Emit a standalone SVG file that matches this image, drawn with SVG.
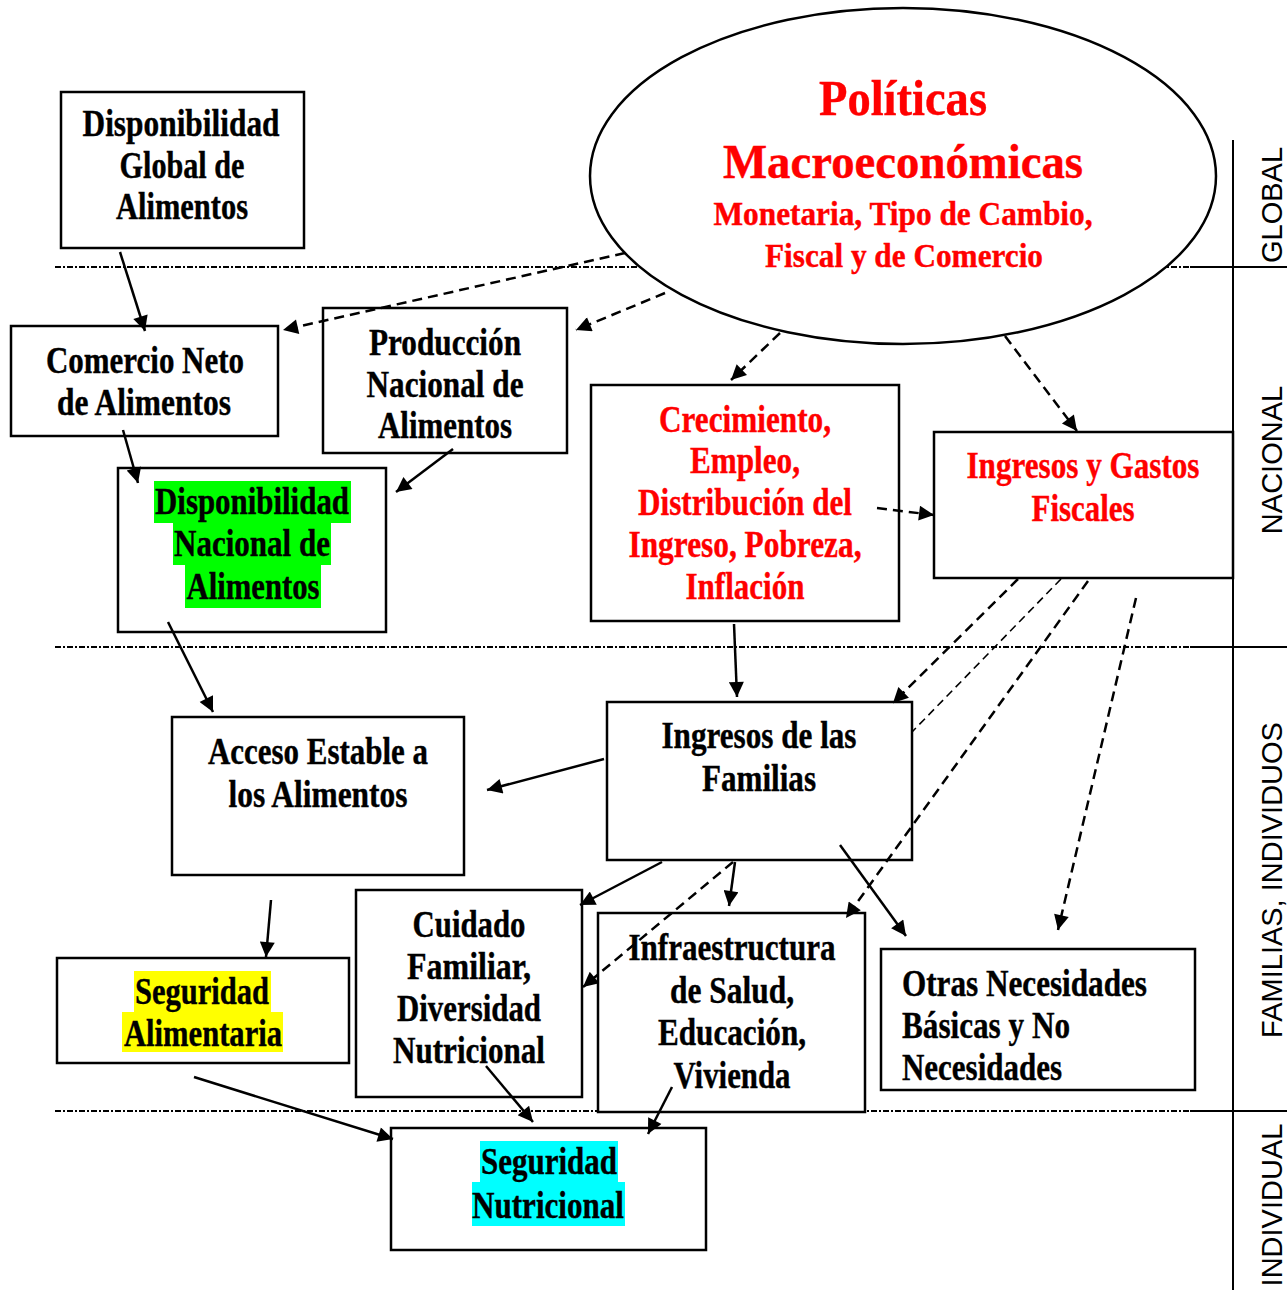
<svg xmlns="http://www.w3.org/2000/svg" width="1287" height="1290" viewBox="0 0 1287 1290">
<style>
.box{fill:#fff;stroke:#000;stroke-width:2.5}
.t{font-family:"Liberation Serif","Times New Roman",serif;font-weight:bold;font-size:37px;fill:#000;stroke:#000;stroke-width:0.4;text-anchor:middle}
.r{fill:#ff0000;stroke:#ff0000}
.l{text-anchor:start}
.side{font-family:"Liberation Sans",Arial,sans-serif;font-size:29px;fill:#000;text-anchor:middle}
.sep{stroke:#000;stroke-width:2;stroke-dasharray:6 2 2 2;fill:none}
.sol{stroke:#000;stroke-width:2;fill:none}
.c{stroke:#000;stroke-width:2.5;fill:none;marker-end:url(#ah)}
.d{stroke:#000;stroke-width:2.5;fill:none;stroke-dasharray:10 6;marker-end:url(#ah)}
.dt{stroke:#000;stroke-width:1.6;fill:none;stroke-dasharray:8 5}
</style>
<defs>
<marker id="ah" viewBox="0 0 10 10" refX="10" refY="5" markerWidth="19" markerHeight="15" markerUnits="userSpaceOnUse" orient="auto">
<path d="M0,0 L10,5 L0,10 z" fill="#000"/>
</marker>
</defs>
<rect width="1287" height="1290" fill="#fff"/>
<g id="separators">
<line class="sep" x1="55" y1="267" x2="1190" y2="267"/>
<line class="sol" x1="1190" y1="267" x2="1287" y2="267"/>
<line class="sep" x1="55" y1="647" x2="1190" y2="647"/>
<line class="sol" x1="1190" y1="647" x2="1287" y2="647"/>
<line class="sep" x1="55" y1="1111" x2="1190" y2="1111"/>
<line class="sol" x1="1190" y1="1111" x2="1287" y2="1111"/>
<line class="sol" x1="1233" y1="140" x2="1233" y2="1290"/>
</g>
<g id="side-labels">
<text class="side" transform="translate(1282,205) rotate(-90)">GLOBAL</text>
<text class="side" transform="translate(1282,460) rotate(-90)">NACIONAL</text>
<text class="side" transform="translate(1282,880) rotate(-90)">FAMILIAS, INDIVIDUOS</text>
<text class="side" transform="translate(1282,1205) rotate(-90)">INDIVIDUAL</text>
</g>
<g id="politicas">
<ellipse cx="903" cy="176" rx="313" ry="168" fill="#fff" stroke="#000" stroke-width="2.5"/>
<text class="t r" x="903" y="115" style="font-size:50px" textLength="168" lengthAdjust="spacingAndGlyphs">Políticas</text>
<text class="t r" x="903" y="178" style="font-size:48px" textLength="360" lengthAdjust="spacingAndGlyphs">Macroeconómicas</text>
<text class="t r" x="903" y="225" style="font-size:33px" textLength="379" lengthAdjust="spacingAndGlyphs">Monetaria, Tipo de Cambio,</text>
<text class="t r" x="904" y="267" style="font-size:33px" textLength="278" lengthAdjust="spacingAndGlyphs">Fiscal y de Comercio</text>
</g>
<g id="disp-global">
<rect class="box" x="61" y="92" width="243" height="156"/>
<text class="t" x="181" y="136" textLength="197" lengthAdjust="spacingAndGlyphs">Disponibilidad</text>
<text class="t" x="182" y="178" textLength="125" lengthAdjust="spacingAndGlyphs">Global de</text>
<text class="t" x="182" y="219" textLength="132" lengthAdjust="spacingAndGlyphs">Alimentos</text>
</g>
<g id="comercio-neto">
<rect class="box" x="11" y="326" width="267" height="110"/>
<text class="t" x="145" y="373" textLength="198" lengthAdjust="spacingAndGlyphs">Comercio Neto</text>
<text class="t" x="144" y="415" textLength="174" lengthAdjust="spacingAndGlyphs">de Alimentos</text>
</g>
<g id="produccion">
<rect class="box" x="323" y="308" width="244" height="145"/>
<text class="t" x="445" y="355" textLength="152" lengthAdjust="spacingAndGlyphs">Producción</text>
<text class="t" x="445" y="397" textLength="157" lengthAdjust="spacingAndGlyphs">Nacional de</text>
<text class="t" x="445" y="438" textLength="134" lengthAdjust="spacingAndGlyphs">Alimentos</text>
</g>
<g id="disp-nacional">
<rect class="box" x="118" y="468" width="268" height="164"/>
<rect x="154" y="481" width="197" height="42" fill="#00ff00"/>
<rect x="173" y="523" width="158" height="42" fill="#00ff00"/>
<rect x="185" y="565" width="136" height="43" fill="#00ff00"/>
<text class="t" x="252" y="514" textLength="194" lengthAdjust="spacingAndGlyphs">Disponibilidad</text>
<text class="t" x="252" y="556" textLength="156" lengthAdjust="spacingAndGlyphs">Nacional de</text>
<text class="t" x="253" y="599" textLength="133" lengthAdjust="spacingAndGlyphs">Alimentos</text>
</g>
<g id="crecimiento">
<rect class="box" x="591" y="385" width="308" height="236"/>
<text class="t r" x="745" y="432" textLength="172" lengthAdjust="spacingAndGlyphs">Crecimiento,</text>
<text class="t r" x="745" y="473" textLength="110" lengthAdjust="spacingAndGlyphs">Empleo,</text>
<text class="t r" x="745" y="515" textLength="214" lengthAdjust="spacingAndGlyphs">Distribución del</text>
<text class="t r" x="745" y="557" textLength="233" lengthAdjust="spacingAndGlyphs">Ingreso, Pobreza,</text>
<text class="t r" x="745" y="599" textLength="119" lengthAdjust="spacingAndGlyphs">Inflación</text>
</g>
<g id="ingresos-gastos">
<rect class="box" x="934" y="432" width="299" height="146"/>
<text class="t r" x="1083" y="478" textLength="233" lengthAdjust="spacingAndGlyphs">Ingresos y Gastos</text>
<text class="t r" x="1083" y="521" textLength="103" lengthAdjust="spacingAndGlyphs">Fiscales</text>
</g>
<g id="acceso">
<rect class="box" x="172" y="717" width="292" height="158"/>
<text class="t" x="318" y="764" textLength="220" lengthAdjust="spacingAndGlyphs">Acceso Estable a</text>
<text class="t" x="318" y="807" textLength="179" lengthAdjust="spacingAndGlyphs">los Alimentos</text>
</g>
<g id="ingresos-familias">
<rect class="box" x="607" y="702" width="305" height="158"/>
<text class="t" x="759" y="748" textLength="195" lengthAdjust="spacingAndGlyphs">Ingresos de las</text>
<text class="t" x="759" y="791" textLength="114" lengthAdjust="spacingAndGlyphs">Familias</text>
</g>
<g id="seg-alimentaria">
<rect class="box" x="57" y="958" width="292" height="105"/>
<rect x="134" y="971" width="137" height="41" fill="#ffff00"/>
<rect x="122" y="1012" width="161" height="40" fill="#ffff00"/>
<text class="t" x="202" y="1004" textLength="134" lengthAdjust="spacingAndGlyphs">Seguridad</text>
<text class="t" x="203" y="1046" textLength="158" lengthAdjust="spacingAndGlyphs">Alimentaria</text>
</g>
<g id="cuidado">
<rect class="box" x="356" y="890" width="226" height="207"/>
<text class="t" x="469" y="937" textLength="113" lengthAdjust="spacingAndGlyphs">Cuidado</text>
<text class="t" x="469" y="979" textLength="124" lengthAdjust="spacingAndGlyphs">Familiar,</text>
<text class="t" x="469" y="1021" textLength="144" lengthAdjust="spacingAndGlyphs">Diversidad</text>
<text class="t" x="469" y="1063" textLength="152" lengthAdjust="spacingAndGlyphs">Nutricional</text>
</g>
<g id="infraestructura">
<rect class="box" x="598" y="913" width="267" height="199"/>
<text class="t" x="732" y="960" textLength="207" lengthAdjust="spacingAndGlyphs">Infraestructura</text>
<text class="t" x="732" y="1003" textLength="124" lengthAdjust="spacingAndGlyphs">de Salud,</text>
<text class="t" x="732" y="1045" textLength="148" lengthAdjust="spacingAndGlyphs">Educación,</text>
<text class="t" x="732" y="1088" textLength="117" lengthAdjust="spacingAndGlyphs">Vivienda</text>
</g>
<g id="otras">
<rect class="box" x="881" y="949" width="314" height="141"/>
<text class="t l" x="902" y="996" textLength="245" lengthAdjust="spacingAndGlyphs">Otras Necesidades</text>
<text class="t l" x="902" y="1038" textLength="168" lengthAdjust="spacingAndGlyphs">Básicas y No</text>
<text class="t l" x="902" y="1080" textLength="160" lengthAdjust="spacingAndGlyphs">Necesidades</text>
</g>
<g id="seg-nutricional">
<rect class="box" x="391" y="1128" width="315" height="122"/>
<rect x="480" y="1141" width="138" height="41" fill="#00ffff"/>
<rect x="472" y="1182" width="153" height="44" fill="#00ffff"/>
<text class="t" x="549" y="1174" textLength="136" lengthAdjust="spacingAndGlyphs">Seguridad</text>
<text class="t" x="548" y="1218" textLength="152" lengthAdjust="spacingAndGlyphs">Nutricional</text>
</g>
<g id="connectors">
<line class="c" x1="120" y1="252" x2="145" y2="331"/>
<line class="c" x1="123" y1="430" x2="138" y2="483"/>
<line class="c" x1="453" y1="449" x2="396" y2="492"/>
<line class="c" x1="168" y1="622" x2="213" y2="712"/>
<line class="c" x1="734" y1="624" x2="737" y2="697"/>
<line class="c" x1="604" y1="759" x2="487" y2="790"/>
<line class="c" x1="662" y1="862" x2="580" y2="905"/>
<line class="c" x1="735" y1="862" x2="729" y2="906"/>
<line class="c" x1="840" y1="845" x2="906" y2="936"/>
<line class="c" x1="271" y1="900" x2="266" y2="957"/>
<line class="c" x1="194" y1="1077" x2="393" y2="1139"/>
<line class="c" x1="486" y1="1066" x2="533" y2="1122"/>
<line class="c" x1="672" y1="1087" x2="648" y2="1134"/>
<line class="d" x1="625" y1="253" x2="283" y2="330"/>
<line class="d" x1="665" y1="293" x2="576" y2="330"/>
<line class="d" x1="780" y1="333" x2="731" y2="380"/>
<line class="d" x1="1005" y1="336" x2="1077" y2="431"/>
<line class="d" x1="877" y1="508" x2="934" y2="515"/>
<line class="d" x1="1018" y1="579" x2="893" y2="703"/>
<line class="dt" x1="1061" y1="579" x2="912" y2="732"/>
<line class="d" x1="1088" y1="581" x2="846" y2="918"/>
<line class="d" x1="1136" y1="598" x2="1058" y2="930"/>
<line class="d" x1="733" y1="862" x2="583" y2="987"/>
</g>
</svg>
